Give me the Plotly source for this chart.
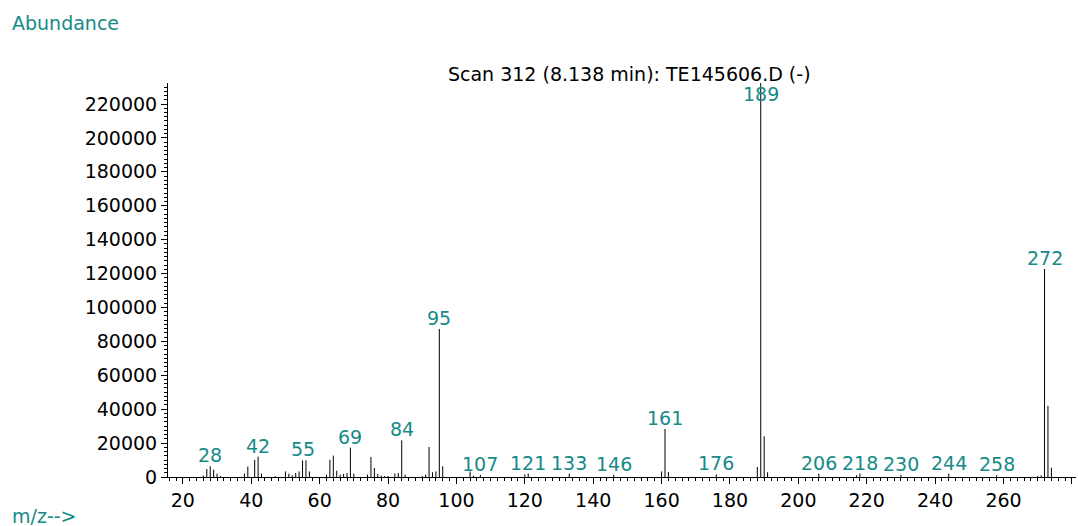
import plotly.graph_objects as go

# Mass spectrum: m/z values and their abundances
mz = [26, 27, 28, 29, 30, 31, 38, 39, 41, 42, 43, 47, 50, 51, 52, 53, 54, 55, 56, 57,
      62, 63, 64, 65, 66, 67, 68, 69, 70, 74, 75, 76, 77, 78, 79, 80, 82, 83, 84, 85,
      90, 91, 92, 93, 94, 95, 96, 104, 105, 107, 120, 121, 133, 146, 160, 161, 162,
      176, 188, 189, 190, 191, 206, 217, 218, 230, 244, 258, 270, 271, 272, 273, 274]
abundance = [800, 4700, 6300, 4300, 2000, 600, 2000, 6200, 10200, 12000, 2000, 500,
             3300, 2000, 1000, 2400, 3300, 9800, 9800, 3300,
             1400, 10200, 12600, 3700, 1400, 1800, 2400, 17300, 2000, 1400, 11800, 5300,
             1800, 800, 600, 600, 2000, 2400, 21600, 1400,
             600, 1400, 17700, 2800, 3300, 87300, 6300, 3300, 800, 1300, 1500, 2000,
             2000, 1300, 3300, 28300, 3000,
             1500, 5900, 232400, 24000, 2800, 2000, 1000, 2000, 1300, 2000, 1000, 600,
             1000, 122700, 42000, 5500]

# Peaks annotated with their m/z
labeled_mz = [28, 42, 55, 69, 84, 95, 107, 121, 133, 146, 161, 176, 189, 206, 218,
              230, 244, 258, 272]

x_tick_vals = [20, 40, 60, 80, 100, 120, 140, 160, 180, 200, 220, 240, 260, 280]
x_tick_text = ["20", "40", "60", "80", "100", "120", "140", "160", "180", "200",
               "220", "240", "260", ""]

title_text = "Scan 312 (8.138 min): TE145606.D (-)"
y_title = "Abundance"
x_title = "m/z-->"

TEAL = "#168a87"
FONT = "DejaVu Sans"
FSIZE = 19
Y_MAX = 232400
LABEL_CAP = 219500

# Build stick lines (one vertical segment per peak)
sx, sy = [], []
for m, a in zip(mz, abundance):
    sx += [m, m, None]
    sy += [0, a, None]

fig = go.Figure()
fig.add_trace(go.Scatter(x=sx, y=sy, mode="lines",
                         line=dict(color="black", width=1),
                         hoverinfo="skip", showlegend=False))

lookup = dict(zip(mz, abundance))
for m in labeled_mz:
    fig.add_annotation(x=m, y=min(lookup[m], LABEL_CAP), text=str(m),
                       showarrow=False, xanchor="center", yanchor="bottom",
                       yshift=-2, font=dict(family=FONT, size=FSIZE, color=TEAL))

fig.add_annotation(x=-0.174, y=1.152, xref="paper", yref="paper", text=y_title,
                   showarrow=False, xanchor="left", yanchor="middle",
                   font=dict(family=FONT, size=FSIZE, color=TEAL))
fig.add_annotation(x=-0.174, y=-0.066, xref="paper", yref="paper", text=x_title,
                   showarrow=False, xanchor="left", yanchor="top",
                   font=dict(family=FONT, size=FSIZE, color=TEAL))

fig.update_layout(
    width=1078, height=526,
    margin=dict(l=168, r=2, t=83, b=49),
    paper_bgcolor="white", plot_bgcolor="white",
    title=dict(text=title_text, x=0.508, xref="paper", xanchor="center",
               y=1 - 74 / 526, yref="container", yanchor="middle",
               font=dict(family=FONT, size=FSIZE, color="black")),
    font=dict(family=FONT, size=FSIZE, color="black"),
    xaxis=dict(range=[15.65, 281.2], tickvals=x_tick_vals, ticktext=x_tick_text,
               ticks="outside", ticklen=6, tickwidth=1, tickcolor="black",
               showline=True, linecolor="black", linewidth=1,
               showgrid=False, zeroline=False,
               minor=dict(dtick=2, tick0=0, ticks="outside", ticklen=3,
                          tickcolor="black", showgrid=False),
               tickfont=dict(family=FONT, size=FSIZE, color="black")),
    yaxis=dict(range=[0, Y_MAX], dtick=20000, tick0=0, tickformat="d",
               ticks="outside", ticklen=6, tickwidth=1, tickcolor="black",
               showline=True, linecolor="black", linewidth=1,
               showgrid=False, zeroline=False,
               minor=dict(dtick=2500, tick0=0, ticks="outside", ticklen=3,
                          tickcolor="black", showgrid=False),
               tickfont=dict(family=FONT, size=FSIZE, color="black")),
)

fig.write_html("out.html")
